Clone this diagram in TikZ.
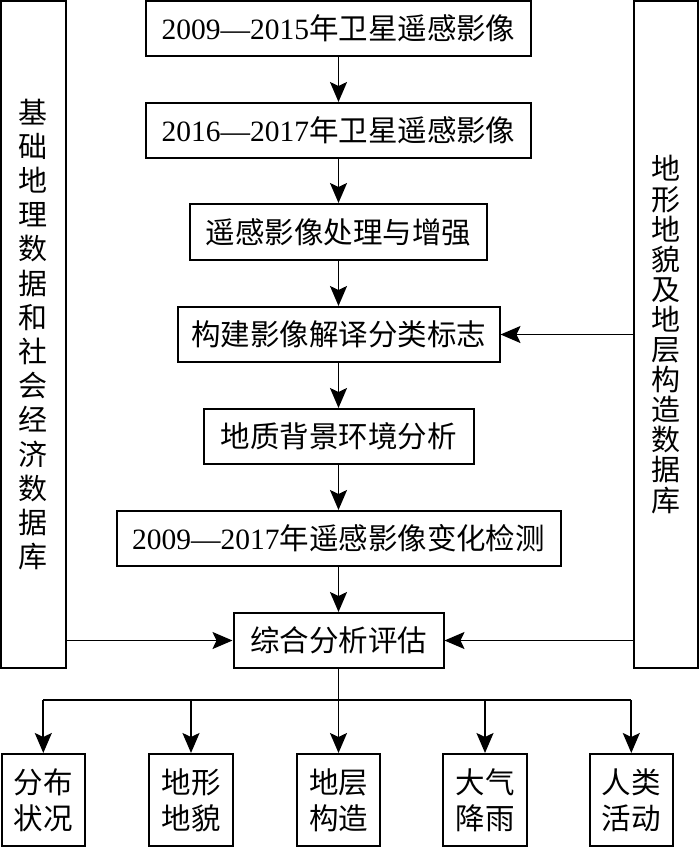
\documentclass[tikz,border=0pt]{standalone}
\usepackage{fontspec}
\setmainfont{Liberation Serif}
\newfontfamily\cjk{Noto Sans CJK SC}
\usetikzlibrary{arrows.meta}
\begin{document}
\begin{tikzpicture}[x=1pt,y=-1pt,
  box/.style={draw,line width=2pt,inner sep=0pt,font=\fontsize{29.5}{34}\selectfont},
  arr/.style={line width=1.8pt,-{Stealth[length=20pt,width=17pt,inset=4pt]}},
  ln/.style={line width=1.8pt}]
\useasboundingbox (0,0) rectangle (700,847);
% main column
\node[box,minimum width=385pt,minimum height=55pt] (b1) at (338.5,28.5) {2009—2015{\cjk 年卫星遥感影像}};
\node[box,minimum width=385pt,minimum height=55pt] (b2) at (338.5,130.5) {2016—2017{\cjk 年卫星遥感影像}};
\node[box,minimum width=297pt,minimum height=56pt] (b3) at (338.5,232) {\cjk 遥感影像处理与增强};
\node[box,minimum width=322pt,minimum height=55pt] (b4) at (338.5,334.5) {\cjk 构建影像解译分类标志};
\node[box,minimum width=270pt,minimum height=55pt] (b5) at (338.5,436.5) {\cjk 地质背景环境分析};
\node[box,minimum width=444pt,minimum height=55pt] (b6) at (338.5,538.5) {2009—2017{\cjk 年遥感影像变化检测}};
\node[box,minimum width=210pt,minimum height=55pt] (b7) at (338.5,640.5) {\cjk 综合分析评估};
% side databases
\node[box,minimum width=65pt,minimum height=667pt,align=center,font=\cjk\fontsize{29}{34.2}\selectfont] (L) at (33.5,334.5)
  {基\\础\\地\\理\\数\\据\\和\\社\\会\\经\\济\\数\\据\\库};
\node[box,minimum width=64pt,minimum height=667pt,align=center,font=\cjk\fontsize{29}{30.1}\selectfont] (R) at (666,334.5)
  {地\\形\\地\\貌\\及\\地\\层\\构\\造\\数\\据\\库};
% outputs
\tikzset{outbox/.style={box,minimum width=83.5pt,minimum height=92pt,align=center,font=\cjk\fontsize{29.5}{36}\selectfont}}
\node[outbox] (o1) at (43.3,800) {分布\\状况};
\node[outbox] (o2) at (191,800) {地形\\地貌};
\node[outbox] (o3) at (338.5,800) {地层\\构造};
\node[outbox] (o4) at (485,800) {大气\\降雨};
\node[outbox] (o5) at (631.3,800) {人类\\活动};
% connectors
\draw[arr] (b1) -- (b2);
\draw[arr] (b2) -- (b3);
\draw[arr] (b3) -- (b4);
\draw[arr] (b4) -- (b5);
\draw[arr] (b5) -- (b6);
\draw[arr] (b6) -- (b7);
\draw[arr] (R.west |- b4) -- (b4.east);
\draw[arr] (L.east |- b7) -- (b7.west);
\draw[arr] (R.west |- b7) -- (b7.east);
\coordinate (j) at (338.5,700);
\draw[ln] (b7.south) -- (j);
\draw[ln] (o1.north |- j) -- (o5.north |- j);
\foreach \k in {1,...,5}{\draw[arr] (o\k.north |- j) -- (o\k.north);}
\end{tikzpicture}
\end{document}
